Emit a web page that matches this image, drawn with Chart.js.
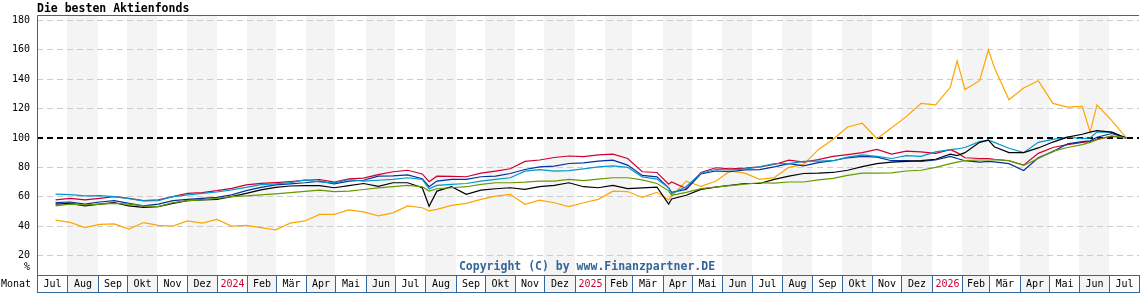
<!DOCTYPE html>
<html>
<head>
<meta charset="utf-8">
<title>Die besten Aktienfonds</title>
<script src="https://cdn.jsdelivr.net/npm/chart.js@4.4.1/dist/chart.umd.min.js"></script>
<style>
  html, body { margin: 0; padding: 0; background: #fff; }
  canvas { display: block; }
</style>
</head>
<body>
<canvas id="chart" width="1140" height="300"></canvas>
<script>
// sample dates, about every 15 days plus a few spikes
const dates = [
  '2023-07-20', '2023-08-04', '2023-08-19', '2023-09-03', '2023-09-18', '2023-10-03', '2023-10-18', '2023-11-02', '2023-11-17', '2023-12-02',
  '2023-12-17', '2024-01-01', '2024-01-16', '2024-01-31', '2024-02-15', '2024-03-01', '2024-03-16', '2024-03-31', '2024-04-15', '2024-04-30',
  '2024-05-15', '2024-05-30', '2024-06-14', '2024-06-29', '2024-07-14', '2024-07-29', '2024-08-05', '2024-08-13', '2024-08-28', '2024-09-12',
  '2024-09-27', '2024-10-12', '2024-10-27', '2024-11-11', '2024-11-26', '2024-12-11', '2024-12-26', '2025-01-10', '2025-01-25', '2025-02-09',
  '2025-02-24', '2025-03-11', '2025-03-26', '2025-04-07', '2025-04-10', '2025-04-25', '2025-05-10', '2025-05-25', '2025-06-09', '2025-06-24',
  '2025-07-09', '2025-07-24', '2025-08-08', '2025-08-23', '2025-09-07', '2025-09-22', '2025-10-07', '2025-10-22', '2025-11-06', '2025-11-21',
  '2025-12-06', '2025-12-21', '2026-01-05', '2026-01-20', '2026-01-27', '2026-02-04', '2026-02-19', '2026-02-28', '2026-03-06', '2026-03-21',
  '2026-04-05', '2026-04-20', '2026-05-05', '2026-05-20', '2026-06-04', '2026-06-12', '2026-06-19', '2026-07-04', '2026-07-19'
];

const orangeFund = [
  44, 42.5, 39, 41.2, 41.5, 38, 42.4, 40.5, 40, 43.5,
  42, 44.5, 40, 40.5, 39, 37.5, 42, 43.5, 48, 48,
  51, 49.7, 47, 49, 53.7, 52.5, 50.3, 51.4, 54.1, 55.5,
  58.2, 60.4, 61.6, 54.8, 57.7, 55.9, 53.2, 55.9, 58.2, 63.8,
  63.5, 59.5, 63, 58, 60.5, 70.6, 67, 70.5, 77.5, 76,
  71.8, 73, 80, 82, 92, 99, 107.5, 110, 99.5, 107,
  114.5, 123.5, 122.5, 134.5, 152.5, 133, 139, 160, 148, 126,
  134, 139, 123.5, 121, 121.5, 104, 122.5, 112, 100
];
const redFund = [
  57.8, 58.9, 57.8, 58.9, 60, 58.9, 57.3, 57.8, 60, 62.3,
  62.8, 64.1, 65.7, 68, 69.1, 69.6, 70.3, 71.2, 71.7, 69.9,
  72.1, 72.6, 75, 77, 78, 75.5, 70.2, 74, 73.8, 73.6,
  76, 77.4, 79, 84, 85, 86.7, 87.7, 87.3, 88.5, 89,
  86, 77, 76.5, 68.5, 70, 65.5, 76.5, 79.7, 79, 79.4,
  80.3, 81.9, 84.9, 83.5, 85.3, 87.5, 88.7, 90, 92.2, 89,
  91, 90.5, 89.5, 92, 90, 86.5, 86, 86, 85.5, 84.5,
  81.5, 89.5, 93.5, 95.5, 97, 97.5, 99, 101, 100
];
const blueFund = [
  56, 56.4, 55, 56.4, 57.3, 55.5, 53.7, 55, 57.3, 58.2,
  58.9, 59.6, 61.2, 64.1, 66.4, 68, 68.7, 69.5, 70.6, 68.8,
  70.6, 71.2, 74, 74.2, 74.8, 72.2, 66.8, 70.6, 71.8, 71.8,
  73.6, 74, 75.8, 78.5, 80.3, 80.8, 82.6, 83, 84.2, 84.9,
  81.5, 74.5, 73.5, 66, 63, 65, 75.5, 77.5, 77, 78.2,
  78.5, 80.3, 82.5, 81, 83.2, 84.5, 86.5, 87.5, 87, 84.5,
  84.5, 84, 85, 87.5, 86, 84.5, 83.5, 84, 83.7, 82.5,
  77.8, 86.5, 90.7, 96, 97.5, 98, 100.5, 103, 100
];
const cyanFund = [
  61.7, 61.4, 60.5, 60.7, 60, 58.7, 57.1, 57.3, 60, 61.2,
  62.3, 63.2, 64.6, 66.4, 68.2, 68.7, 69.6, 71.5, 70.1, 69.4,
  71.7, 70.6, 71.2, 71.8, 72.9, 71.8, 65.4, 67.7, 68.4, 69,
  70.6, 71.8, 72.9, 77.4, 78.5, 77.4, 77.8, 79, 80.3, 81,
  80, 73.5, 72, 66, 62, 67, 76, 78.5, 78.3, 78.8,
  80.3, 82.6, 82.5, 84, 84.2, 84.5, 87, 88.5, 87.5, 86,
  88, 87.5, 90.5, 92, 92.5, 93.5, 97.5, 98.5, 97, 93,
  90, 97, 99, 100.5, 99.5, 100, 104, 104, 100
];
const blackFund = [
  55, 55.5, 53.7, 55, 56, 53.7, 52.8, 53.3, 55.5, 57.3,
  57.8, 58.2, 60, 62.3, 64.6, 66.4, 67.3, 67.5, 67.6, 66.1,
  67.6, 69, 67, 69.5, 69.5, 66.1, 53.5, 63.8, 66.8, 61.6,
  64.5, 65.4, 66.1, 65, 66.8, 67.7, 69.5, 66.8, 66.1, 67.7,
  65.5, 66, 66.5, 55, 58.5, 61, 65, 66.5, 67.8, 69,
  69, 71.8, 74, 75.8, 76, 76.5, 78, 80.5, 82.5, 83.5,
  84, 84.5, 85.5, 89, 88, 90, 97, 98.5, 94, 90,
  90, 93.2, 97.2, 100.6, 102.5, 104, 105, 104, 100
];
const greenFund = [
  53.7, 55, 54.4, 55, 55.5, 55, 53.7, 53.3, 56, 57.3,
  57.8, 58.9, 60, 60.5, 61.2, 61.9, 62.8, 63.6, 64.5, 63.5,
  63.8, 64.9, 66, 66.8, 67.7, 66.8, 63.8, 65.4, 66.1, 66.8,
  68.4, 69.5, 69.5, 69.9, 70.6, 70.6, 71.8, 71, 72, 72.9,
  72.9, 71.5, 69, 64, 61, 63, 65.5, 66.5, 67.5, 68.5,
  69.5, 69.3, 70, 70, 71.5, 72.5, 74.5, 76, 76, 76.2,
  77.5, 78, 80, 82.5, 83.5, 84.6, 85, 85, 85.2, 84.5,
  81.3, 86, 91, 93.5, 95.5, 97, 98.8, 101.5, 100
];

const yTicks = [20, 40, 60, 80, 100, 120, 140, 160, 180];
const monthNames = ['Jan', 'Feb', 'Mär', 'Apr', 'Mai', 'Jun', 'Jul', 'Aug', 'Sep', 'Okt', 'Nov', 'Dez'];
const axisStart = '2023-07-01';
const axisEnd = '2026-08-01';

const frameColor = '#336699';
const bandColor = '#f4f4f4';
const mono = '"DejaVu Sans Mono", "Liberation Mono", monospace';

function dayOf(s) {
  return (Date.parse(s) - Date.parse(axisStart)) / 86400000;
}

// month boxes from axisStart to axisEnd
const months = [];
let cur = new Date(Date.parse(axisStart));
const endDate = new Date(Date.parse(axisEnd));
while (cur < endDate) {
  const next = new Date(cur);
  next.setUTCMonth(next.getUTCMonth() + 1);
  const m = cur.getUTCMonth();
  months.push({
    from: (cur - Date.parse(axisStart)) / 86400000,
    to: (next - Date.parse(axisStart)) / 86400000,
    label: m === 0 ? String(cur.getUTCFullYear()) : monthNames[m],
    isYear: m === 0
  });
  cur = next;
}

function series(values) {
  return dates.map((d, i) => ({ x: dayOf(d), y: values[i] }));
}

const decor = {
  id: 'decor',
  beforeDraw(chart) {
    const { ctx, chartArea: a, scales: { x } } = chart;
    ctx.save();
    ctx.fillStyle = '#fff';
    ctx.fillRect(0, 0, chart.width, chart.height);
    ctx.fillStyle = bandColor;
    months.forEach((m, i) => {
      if (i % 2 === 1) {
        const x0 = Math.round(x.getPixelForValue(m.from));
        const x1 = Math.round(x.getPixelForValue(m.to));
        ctx.fillRect(x0, a.top, x1 - x0, a.bottom - a.top);
      }
    });
    ctx.restore();
  },
  beforeDatasetsDraw(chart) {
    const { ctx, chartArea: a, scales: { y } } = chart;
    const py = Math.round(y.getPixelForValue(100));
    ctx.save();
    ctx.strokeStyle = '#000';
    ctx.lineWidth = 2;
    ctx.setLineDash([6, 4]);
    ctx.beginPath();
    ctx.moveTo(a.left, py);
    ctx.lineTo(a.right, py);
    ctx.stroke();
    ctx.restore();
  },
  afterDraw(chart) {
    const { ctx, chartArea: a, scales: { x } } = chart;
    const boxTop = a.bottom + 0.5, boxBottom = a.bottom + 17.5;
    ctx.save();

    // month boxes
    ctx.font = '10px ' + mono;
    ctx.textAlign = 'center';
    ctx.textBaseline = 'middle';
    months.forEach((m, i) => {
      const x0 = Math.round(x.getPixelForValue(m.from)) + 0.5;
      const x1 = Math.round(x.getPixelForValue(m.to)) + 0.5;
      ctx.fillStyle = i % 2 === 1 ? bandColor : '#fff';
      ctx.fillRect(x0, boxTop, x1 - x0, boxBottom - boxTop);
      ctx.strokeStyle = frameColor;
      ctx.lineWidth = 1;
      ctx.strokeRect(x0, boxTop, x1 - x0, boxBottom - boxTop);
      ctx.fillStyle = m.isYear ? '#cc0033' : '#000';
      ctx.fillText(m.label, (x0 + x1) / 2, (boxTop + boxBottom) / 2 + 0.5);
    });

    // frame
    ctx.strokeStyle = frameColor;
    ctx.lineWidth = 1;
    ctx.beginPath();
    ctx.moveTo(a.left + 0.5, boxBottom);
    ctx.lineTo(a.left + 0.5, a.top + 0.5);
    ctx.lineTo(a.right, a.top + 0.5);
    ctx.stroke();

    // texts
    ctx.fillStyle = '#000';
    ctx.textAlign = 'left';
    ctx.textBaseline = 'alphabetic';
    ctx.font = 'bold 11.5px ' + mono;
    ctx.fillText('Die besten Aktienfonds', 37, 12);

    ctx.font = '10px ' + mono;
    ctx.textBaseline = 'middle';
    ctx.fillText('Monat', 1, 284.5);
    ctx.textAlign = 'right';
    ctx.fillText('%', 30, 267.5);

    ctx.font = 'bold 11.5px ' + mono;
    ctx.textAlign = 'center';
    ctx.fillStyle = frameColor;
    ctx.fillText('Copyright (C) by www.Finanzpartner.DE', 587, 267.5);
    ctx.restore();
  }
};

function line(label, values, color) {
  return {
    label: label,
    data: series(values),
    borderColor: color,
    borderWidth: 1.2,
    pointRadius: 0,
    tension: 0,
    fill: false
  };
}

new Chart(document.getElementById('chart'), {
  type: 'line',
  data: {
    datasets: [
      line('Fonds grün', greenFund, '#669900'),
      line('Fonds schwarz', blackFund, '#000000'),
      line('Fonds hellblau', cyanFund, '#0099cc'),
      line('Fonds blau', blueFund, '#003399'),
      line('Fonds rot', redFund, '#cc0033'),
      line('Fonds orange', orangeFund, '#ffa500')
    ]
  },
  options: {
    responsive: false,
    devicePixelRatio: 1,
    animation: false,
    layout: { padding: { top: 15, right: 1, bottom: 25, left: 0 } },
    plugins: {
      legend: { display: false },
      tooltip: { enabled: false }
    },
    scales: {
      x: {
        type: 'linear',
        min: 0,
        max: dayOf(axisEnd),
        display: false
      },
      y: {
        min: 6.7,
        max: 183.7,
        afterBuildTicks: s => { s.ticks = yTicks.map(v => ({ value: v })); },
        afterFit: s => { s.width = 37; },
        ticks: {
          color: '#000',
          font: { family: mono, size: 10 },
          padding: 7
        },
        grid: { color: '#cccccc', drawTicks: false },
        border: { display: false, dash: [6, 4] }
      }
    }
  },
  plugins: [decor]
});
</script>
</body>
</html>
